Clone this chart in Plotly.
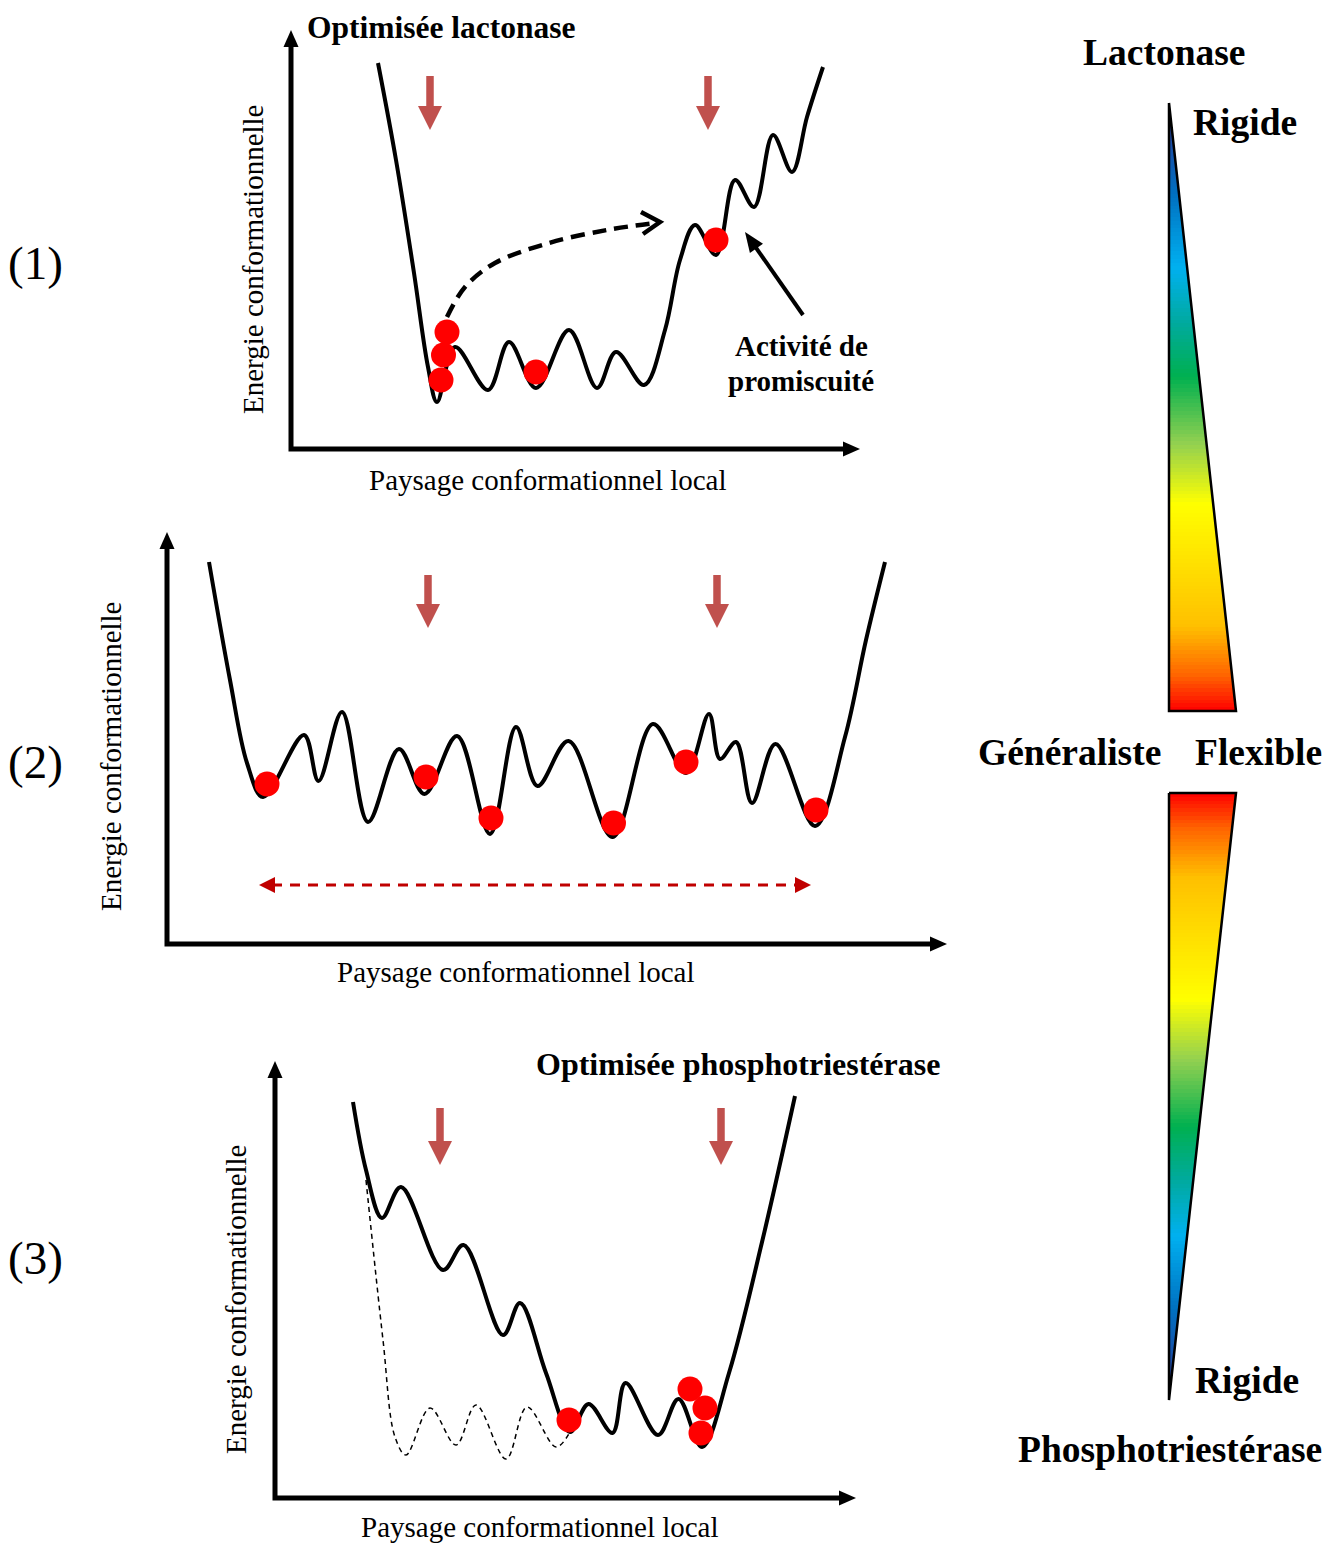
import plotly.graph_objects as go

W, H = 1339, 1544
PAGE_PAD = 8  # default body margin of the html page
FONT = "Liberation Serif"
RED_DOT = "#ff0000"
ARROW_RED = "#c0504d"
DARK_RED = "#c00000"

# ---- panel (1) : optimised lactonase ----
land1_x = [378, 396, 414, 428, 437, 455, 488, 509, 536, 569, 597, 616, 644, 665, 680, 695, 716, 735, 754, 773, 792, 807, 823]
land1_y = [63, 160, 273, 367, 402, 347, 390, 342, 388, 330, 388, 352, 385, 330, 260, 225, 255, 180, 207, 135, 172, 117, 67]
dots1_x = [447, 443.5, 441, 536, 716]
dots1_y = [332, 355, 380, 372, 240]
jump1_x = [447, 465, 495, 549, 607, 655]
jump1_y = [317, 287, 263, 243, 230, 223]

# ---- panel (2) : generalist ----
land2_x = [209, 230, 247, 263, 304, 318.5, 342, 368, 399, 424.5, 457, 490, 516, 537.5, 568.5, 612.5,
           653, 686, 709, 720, 736, 752, 775.5, 815, 845, 866, 885]
land2_y = [562, 680, 763, 797, 735, 781, 712, 822, 749, 794, 736, 834, 727, 786, 741, 837,
           724, 773, 714, 759, 742, 803, 744, 826, 737, 640, 562]
dots2_x = [267, 426, 491, 613.5, 686, 816]
dots2_y = [784, 777, 818, 823, 762, 810]

# ---- panel (3) : optimised phosphotriesterase ----
land3_x = [353, 366, 382, 401, 443, 463.5, 503, 520, 546, 570, 588.5, 612.5, 625.5, 658, 678.5, 702, 729, 762.5, 795]
land3_y = [1102, 1170, 1218, 1187, 1270, 1245, 1335, 1303, 1373, 1432, 1404, 1433, 1383, 1435, 1399, 1447, 1373, 1240, 1096]
ghost3_x = [366, 383, 395, 406, 430, 456, 476, 506, 527, 556, 570]
ghost3_y = [1180, 1340, 1437, 1455, 1408, 1445, 1405, 1459, 1407, 1447, 1432]
dots3_x = [569, 690, 705, 701]
dots3_y = [1420, 1389, 1408, 1433]

# axes: origin x, origin y, y-arrow tip, x-arrow tip
axes_ox = [291, 167, 275]
axes_oy = [449, 944, 1498]
axes_ytip = [30, 532, 1061]
axes_xtip = [860, 947, 856]

# red "down" arrows: x, shaft top, tip
down_x = [430, 708, 428, 717, 440, 721]
down_top = [76, 76, 575, 575, 1108, 1108]
down_tip = [130, 130, 628, 628, 1165, 1165]

# gradient (0 = rigid / narrow end, 1 = flexible / wide end)
grad_stops = [0.0, 0.15, 0.27, 0.36, 0.45, 0.56, 0.66, 0.86, 0.94, 1.0]
grad_colors = ["#2e3192", "#0070c0", "#00b0f0", "#00aaa0", "#00b050", "#92d050",
               "#ffff00", "#ffc000", "#ff6600", "#ff0000"]
grad_scale = [[s, c] for s, c in zip(grad_stops, grad_colors)]

fig = go.Figure()


def head(tx, ty, dx, dy, length, half):
    n = (dx * dx + dy * dy) ** 0.5
    ux, uy = dx / n, dy / n
    bx, by = tx - ux * length, ty - uy * length
    px, py = -uy, ux
    return [tx, bx + px * half, bx - px * half, tx], [ty, by + py * half, by - py * half, ty]


def poly(xs, ys, color, line_color=None, width=0):
    fig.add_trace(go.Scatter(x=xs, y=ys, mode="lines", fill="toself", fillcolor=color,
                             line=dict(color=line_color or color, width=width), hoverinfo="skip"))


def line(xs, ys, color="black", width=4, dash=None, shape="linear"):
    fig.add_trace(go.Scatter(x=xs, y=ys, mode="lines", hoverinfo="skip",
                             line=dict(color=color, width=width, dash=dash, shape=shape, smoothing=1.0)))


# gradient triangles (heatmap + white mask)
N = 160
top1, bot1 = 103, 711
fig.add_trace(go.Heatmap(x=[1169, 1236], y=[top1 + i * (bot1 - top1) / N for i in range(N + 1)],
                         z=[[(i + 0.5) / N] for i in range(N)], colorscale=grad_scale,
                         zmin=0, zmax=1, showscale=False, hoverinfo="skip"))
top2, bot2 = 793, 1400
fig.add_trace(go.Heatmap(x=[1169, 1236], y=[top2 + i * (bot2 - top2) / N for i in range(N + 1)],
                         z=[[1 - (i + 0.5) / N] for i in range(N)], colorscale=grad_scale,
                         zmin=0, zmax=1, showscale=False, hoverinfo="skip"))
poly([1169, 1169, 1245, 1245, 1236, 1169], [103, 95, 95, 714, 711, 103], "white")
poly([1236, 1245, 1245, 1165, 1165, 1169, 1236], [793, 790, 1405, 1405, 1400, 1400, 793], "white")
line([1169, 1169, 1236, 1169], [103, 711, 711, 103], width=2.5)
line([1169, 1236, 1169, 1169], [793, 793, 1400, 793], width=2.5)

# axes with arrowheads
for ox, oy, yt, xt in zip(axes_ox, axes_oy, axes_ytip, axes_xtip):
    line([ox, ox, xt - 12], [yt + 12, oy, oy], width=5)
    hx, hy = head(ox, yt, 0, -1, 17, 7.5)
    poly(hx, hy, "black")
    hx, hy = head(xt, oy, 1, 0, 17, 7.5)
    poly(hx, hy, "black")

# red down arrows
for x, t, tip in zip(down_x, down_top, down_tip):
    line([x, x], [t, tip - 22], color=ARROW_RED, width=7.5)
    hx, hy = head(x, tip, 0, 1, 24, 12)
    poly(hx, hy, ARROW_RED)

# landscapes
line(land1_x, land1_y, width=4, shape="spline")
line(land2_x, land2_y, width=4, shape="spline")
line(ghost3_x, ghost3_y, width=1.5, dash="5px,4px", shape="spline")
line(land3_x, land3_y, width=4, shape="spline")

# jump arrow (panel 1)
line(jump1_x, jump1_y, width=4.5, dash="14px,8px", shape="spline")
line([641, 660, 643], [212, 222, 234], width=4.5)

# promiscuity arrow
line([803, 752], [315, 242], width=4)
hx, hy = head(745, 232, 745 - 803, 232 - 315, 20, 8)
poly(hx, hy, "black")

# generalist double arrow (panel 2)
line([272, 798], [885, 885], color=DARK_RED, width=3, dash="10px,8px")
hx, hy = head(259, 885, -1, 0, 16, 8)
poly(hx, hy, DARK_RED)
hx, hy = head(811, 885, 1, 0, 16, 8)
poly(hx, hy, DARK_RED)

# conformers
for dx_, dy_ in [(dots1_x, dots1_y), (dots2_x, dots2_y), (dots3_x, dots3_y)]:
    fig.add_trace(go.Scatter(x=dx_, y=dy_, mode="markers", hoverinfo="skip",
                             marker=dict(size=25, color=RED_DOT, line=dict(width=0))))


def text(x, y, s, size, bold=False, anchor="center", angle=0):
    fig.add_annotation(x=x, y=y, text=f"<b>{s}</b>" if bold else s, showarrow=False,
                       xanchor=anchor, yanchor="middle", textangle=angle, borderpad=0,
                       font=dict(family=FONT, size=size, color="black"))


text(306, 27, "Optimisée lactonase", 31.5, bold=True, anchor="left")
text(801, 346, "Activité de", 29, bold=True)
text(801, 381, "promiscuité", 29, bold=True)
text(535, 1064, "Optimisée phosphotriestérase", 32, bold=True, anchor="left")

for lbl_x, lbl_y in [(548, 480), (516, 972), (540, 1527)]:
    text(lbl_x, lbl_y, "Paysage conformationnel local", 29)
for lbl_x, lbl_y in [(253, 260), (111, 757), (236, 1300)]:
    text(lbl_x, lbl_y, "Energie conformationnelle", 29, angle=-90)

text(35, 263, "(1)", 47)
text(35, 762, "(2)", 47)
text(35, 1258, "(3)", 47)

text(1164, 52, "Lactonase", 37.5, bold=True)
text(1192, 122, "Rigide", 37.5, bold=True, anchor="left")
text(1069, 752, "Généraliste", 37.5, bold=True)
text(1258, 752, "Flexible", 37.5, bold=True)
text(1247, 1380, "Rigide", 37.5, bold=True)
text(1170, 1449, "Phosphotriestérase", 37.5, bold=True)

# ranges shifted by the page margin so figure units land on screen pixels
fig.update_layout(width=W, height=H, margin=dict(l=0, r=0, t=0, b=0),
                  paper_bgcolor="white", plot_bgcolor="white", showlegend=False,
                  xaxis=dict(range=[PAGE_PAD, W + PAGE_PAD], visible=False, fixedrange=True),
                  yaxis=dict(range=[H + PAGE_PAD, PAGE_PAD], visible=False, fixedrange=True))

fig.write_html("out.html")
